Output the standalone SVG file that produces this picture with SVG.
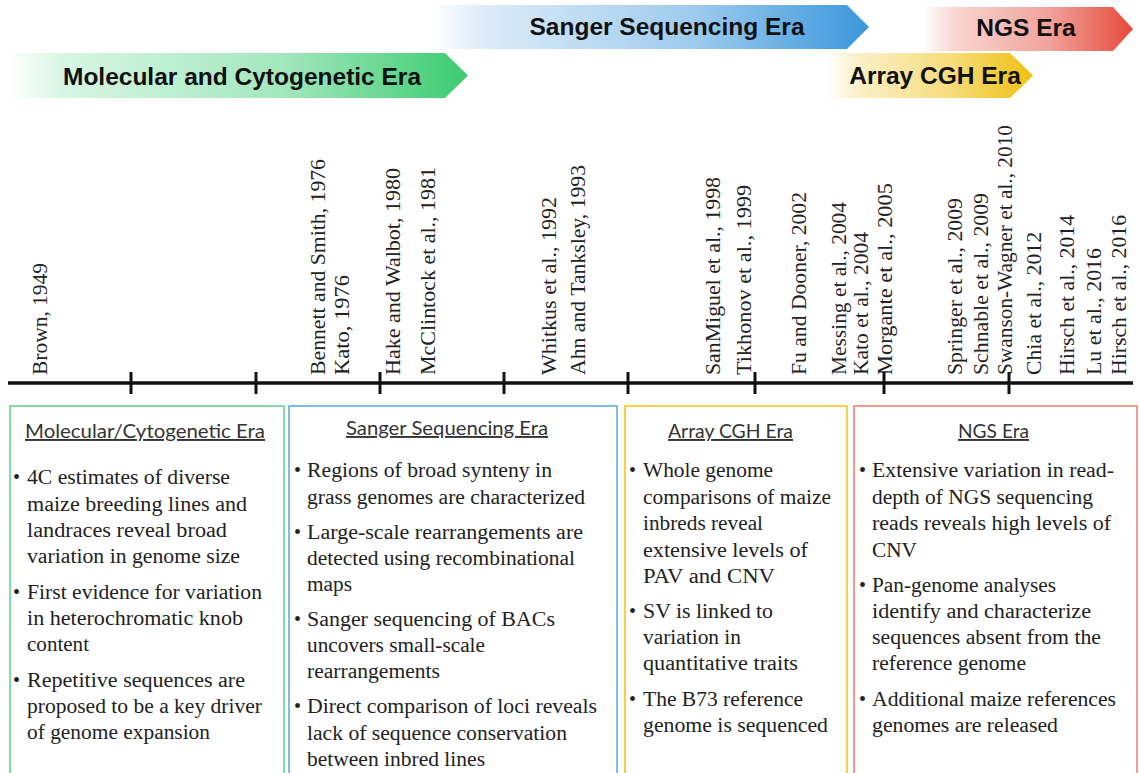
<svg xmlns="http://www.w3.org/2000/svg" width="1139" height="773" viewBox="0 0 1139 773">
<defs>
<linearGradient id="gMol" x1="8" y1="0" x2="468" y2="0" gradientUnits="userSpaceOnUse">
<stop offset="0" stop-color="#ffffff"/><stop offset="0.12" stop-color="#d8f6e4"/><stop offset="0.6" stop-color="#a2e7bd"/><stop offset="1" stop-color="#3bcb70"/>
</linearGradient>
<linearGradient id="gSan" x1="432" y1="0" x2="869" y2="0" gradientUnits="userSpaceOnUse">
<stop offset="0" stop-color="#ffffff"/><stop offset="0.12" stop-color="#dcebf8"/><stop offset="0.6" stop-color="#9ecbee"/><stop offset="1" stop-color="#3a97db"/>
</linearGradient>
<linearGradient id="gNgs" x1="923" y1="0" x2="1133" y2="0" gradientUnits="userSpaceOnUse">
<stop offset="0" stop-color="#ffffff"/><stop offset="0.15" stop-color="#f9d6d2"/><stop offset="0.6" stop-color="#f0a39b"/><stop offset="1" stop-color="#e8493a"/>
</linearGradient>
<linearGradient id="gArr" x1="827" y1="0" x2="1033" y2="0" gradientUnits="userSpaceOnUse">
<stop offset="0" stop-color="#ffffff"/><stop offset="0.15" stop-color="#fbf0c8"/><stop offset="0.6" stop-color="#f6dc7c"/><stop offset="1" stop-color="#f0c010"/>
</linearGradient>
</defs>
<style>
.era{font-family:"Liberation Sans",Arial,sans-serif;font-weight:bold;font-size:24.5px;fill:#111;text-anchor:middle}
.ttl{font-family:Lato,"Open Sans",sans-serif;font-size:19px;fill:#333;text-decoration:underline}
.box{fill:#fff;stroke-width:1.5}
.ser{font-family:"Liberation Serif","Times New Roman",Tinos,Times,"DejaVu Serif",serif;font-size:20px;fill:#222}
</style>
<rect width="1139" height="773" fill="#fff"/>
<g id="era-arrows">
<g id="era-molecular"><polygon points="8,53 445,53 468,75.5 445,98 8,98" fill="url(#gMol)"/><text class="era" x="242" y="85">Molecular and Cytogenetic Era</text></g>
<g id="era-sanger"><polygon points="432,5 847,5 869,27 847,49 432,49" fill="url(#gSan)"/><text class="era" x="667" y="35">Sanger Sequencing Era</text></g>
<g id="era-ngs"><polygon points="923,7 1113,7 1133,29 1113,51 923,51" fill="url(#gNgs)"/><text class="era" x="1026" y="36">NGS Era</text></g>
<g id="era-array"><polygon points="827,53 1010,53 1033,75.5 1010,98 827,98" fill="url(#gArr)"/><text class="era" x="935" y="84">Array CGH Era</text></g>
</g>
<g id="connectors">
<line x1="8" y1="383" x2="1133" y2="383" stroke="#111" stroke-width="3.5"/>
<g stroke="#111" stroke-width="3">
<line x1="131" y1="372" x2="131" y2="394"/><line x1="256" y1="372" x2="256" y2="394"/><line x1="380" y1="372" x2="380" y2="394"/><line x1="504" y1="372" x2="504" y2="394"/><line x1="628" y1="372" x2="628" y2="394"/><line x1="755" y1="372" x2="755" y2="394"/><line x1="884" y1="372" x2="884" y2="394"/><line x1="1009" y1="372" x2="1009" y2="394"/>
</g>
</g>
<g id="timeline-labels" class="ser">
<text transform="translate(47,375) rotate(-90)" textLength="112" lengthAdjust="spacingAndGlyphs">Brown, 1949</text>
<text transform="translate(325,375) rotate(-90)" textLength="216" lengthAdjust="spacingAndGlyphs">Bennett and Smith, 1976</text>
<text transform="translate(349,375) rotate(-90)" textLength="100" lengthAdjust="spacingAndGlyphs">Kato, 1976</text>
<text transform="translate(400,375) rotate(-90)" textLength="207" lengthAdjust="spacingAndGlyphs">Hake and Walbot, 1980</text>
<text transform="translate(435,375) rotate(-90)" textLength="208" lengthAdjust="spacingAndGlyphs">McClintock et al., 1981</text>
<text transform="translate(556,375) rotate(-90)" textLength="178" lengthAdjust="spacingAndGlyphs">Whitkus et al., 1992</text>
<text transform="translate(585,375) rotate(-90)" textLength="210" lengthAdjust="spacingAndGlyphs">Ahn and Tanksley, 1993</text>
<text transform="translate(720,375) rotate(-90)" textLength="198" lengthAdjust="spacingAndGlyphs">SanMiguel et al., 1998</text>
<text transform="translate(751,375) rotate(-90)" textLength="190" lengthAdjust="spacingAndGlyphs">Tikhonov et al., 1999</text>
<text transform="translate(806,375) rotate(-90)" textLength="183" lengthAdjust="spacingAndGlyphs">Fu and Dooner, 2002</text>
<text transform="translate(846,375) rotate(-90)" textLength="173" lengthAdjust="spacingAndGlyphs">Messing et al., 2004</text>
<text transform="translate(868,375) rotate(-90)" textLength="143" lengthAdjust="spacingAndGlyphs">Kato et al., 2004</text>
<text transform="translate(892,375) rotate(-90)" textLength="192" lengthAdjust="spacingAndGlyphs">Morgante et al., 2005</text>
<text transform="translate(962,375) rotate(-90)" textLength="177" lengthAdjust="spacingAndGlyphs">Springer et al., 2009</text>
<text transform="translate(988,375) rotate(-90)" textLength="182" lengthAdjust="spacingAndGlyphs">Schnable et al., 2009</text>
<text transform="translate(1012,375) rotate(-90)" textLength="250" lengthAdjust="spacingAndGlyphs">Swanson-Wagner et al., 2010</text>
<text transform="translate(1041,375) rotate(-90)" textLength="143" lengthAdjust="spacingAndGlyphs">Chia et al., 2012</text>
<text transform="translate(1074,375) rotate(-90)" textLength="160" lengthAdjust="spacingAndGlyphs">Hirsch et al., 2014</text>
<text transform="translate(1101,375) rotate(-90)" textLength="127" lengthAdjust="spacingAndGlyphs">Lu et al., 2016</text>
<text transform="translate(1126,375) rotate(-90)" textLength="160" lengthAdjust="spacingAndGlyphs">Hirsch et al., 2016</text>
</g>
<g id="box-molecular">
<rect class="box" x="10" y="406" width="274" height="380" stroke="#5cd18d"/>
<text class="ttl" x="25" y="438" textLength="240" lengthAdjust="spacingAndGlyphs">Molecular/Cytogenetic Era</text>
<g class="ser">
<text x="13" y="484">•</text><text x="27" y="484" textLength="203" lengthAdjust="spacingAndGlyphs">4C estimates of diverse</text>
<text x="27" y="511" textLength="220" lengthAdjust="spacingAndGlyphs">maize breeding lines and</text>
<text x="27" y="537" textLength="200" lengthAdjust="spacingAndGlyphs">landraces reveal broad</text>
<text x="27" y="563" textLength="213" lengthAdjust="spacingAndGlyphs">variation in genome size</text>
<text x="13" y="599">•</text><text x="27" y="599" textLength="235" lengthAdjust="spacingAndGlyphs">First evidence for variation</text>
<text x="27" y="625" textLength="216" lengthAdjust="spacingAndGlyphs">in heterochromatic knob</text>
<text x="27" y="651" textLength="62" lengthAdjust="spacingAndGlyphs">content</text>
<text x="13" y="687">•</text><text x="27" y="687" textLength="218" lengthAdjust="spacingAndGlyphs">Repetitive sequences are</text>
<text x="27" y="713" textLength="235" lengthAdjust="spacingAndGlyphs">proposed to be a key driver</text>
<text x="27" y="739" textLength="183" lengthAdjust="spacingAndGlyphs">of genome expansion</text>
</g>
</g>
<g id="box-sanger">
<rect class="box" x="289" y="406" width="328" height="380" stroke="#5ba7df"/>
<text class="ttl" x="346" y="435" textLength="202" lengthAdjust="spacingAndGlyphs">Sanger Sequencing Era</text>
<g class="ser">
<text x="294" y="477">•</text><text x="307" y="477" textLength="245" lengthAdjust="spacingAndGlyphs">Regions of broad synteny in</text>
<text x="307" y="504" textLength="278" lengthAdjust="spacingAndGlyphs">grass genomes are characterized</text>
<text x="294" y="539">•</text><text x="307" y="539" textLength="276" lengthAdjust="spacingAndGlyphs">Large-scale rearrangements are</text>
<text x="307" y="565" textLength="268" lengthAdjust="spacingAndGlyphs">detected using recombinational</text>
<text x="307" y="591" textLength="45" lengthAdjust="spacingAndGlyphs">maps</text>
<text x="294" y="626">•</text><text x="307" y="626" textLength="248" lengthAdjust="spacingAndGlyphs">Sanger sequencing of BACs</text>
<text x="307" y="652" textLength="178" lengthAdjust="spacingAndGlyphs">uncovers small-scale</text>
<text x="307" y="678" textLength="133" lengthAdjust="spacingAndGlyphs">rearrangements</text>
<text x="294" y="713">•</text><text x="307" y="713" textLength="290" lengthAdjust="spacingAndGlyphs">Direct comparison of loci reveals</text>
<text x="307" y="740" textLength="260" lengthAdjust="spacingAndGlyphs">lack of sequence conservation</text>
<text x="307" y="766" textLength="178" lengthAdjust="spacingAndGlyphs">between inbred lines</text>
</g>
</g>
<g id="box-array">
<rect class="box" x="625" y="406" width="222" height="380" stroke="#f4c20d"/>
<text class="ttl" x="668" y="438" textLength="125" lengthAdjust="spacingAndGlyphs">Array CGH Era</text>
<g class="ser">
<text x="629" y="477">•</text><text x="643" y="477" textLength="130" lengthAdjust="spacingAndGlyphs">Whole genome</text>
<text x="643" y="504" textLength="188" lengthAdjust="spacingAndGlyphs">comparisons of maize</text>
<text x="643" y="530" textLength="120" lengthAdjust="spacingAndGlyphs">inbreds reveal</text>
<text x="643" y="557" textLength="165" lengthAdjust="spacingAndGlyphs">extensive levels of</text>
<text x="643" y="583" textLength="132" lengthAdjust="spacingAndGlyphs">PAV and CNV</text>
<text x="629" y="618">•</text><text x="643" y="618" textLength="130" lengthAdjust="spacingAndGlyphs">SV is linked to</text>
<text x="643" y="644" textLength="98" lengthAdjust="spacingAndGlyphs">variation in</text>
<text x="643" y="670" textLength="155" lengthAdjust="spacingAndGlyphs">quantitative traits</text>
<text x="629" y="706">•</text><text x="643" y="706" textLength="160" lengthAdjust="spacingAndGlyphs">The B73 reference</text>
<text x="643" y="732" textLength="185" lengthAdjust="spacingAndGlyphs">genome is sequenced</text>
</g>
</g>
<g id="box-ngs">
<rect class="box" x="854" y="406" width="283" height="380" stroke="#f27b6f"/>
<text class="ttl" x="958" y="438" textLength="71" lengthAdjust="spacingAndGlyphs">NGS Era</text>
<g class="ser">
<text x="859" y="477">•</text><text x="872" y="477" textLength="242" lengthAdjust="spacingAndGlyphs">Extensive variation in read-</text>
<text x="872" y="504" textLength="221" lengthAdjust="spacingAndGlyphs">depth of NGS sequencing</text>
<text x="872" y="530" textLength="239" lengthAdjust="spacingAndGlyphs">reads reveals high levels of</text>
<text x="872" y="557" textLength="45" lengthAdjust="spacingAndGlyphs">CNV</text>
<text x="859" y="592">•</text><text x="872" y="592" textLength="184" lengthAdjust="spacingAndGlyphs">Pan-genome analyses</text>
<text x="872" y="618" textLength="219" lengthAdjust="spacingAndGlyphs">identify and characterize</text>
<text x="872" y="644" textLength="229" lengthAdjust="spacingAndGlyphs">sequences absent from the</text>
<text x="872" y="670" textLength="154" lengthAdjust="spacingAndGlyphs">reference genome</text>
<text x="859" y="706">•</text><text x="872" y="706" textLength="244" lengthAdjust="spacingAndGlyphs">Additional maize references</text>
<text x="872" y="732" textLength="186" lengthAdjust="spacingAndGlyphs">genomes are released</text>
</g>
</g>
</svg>
